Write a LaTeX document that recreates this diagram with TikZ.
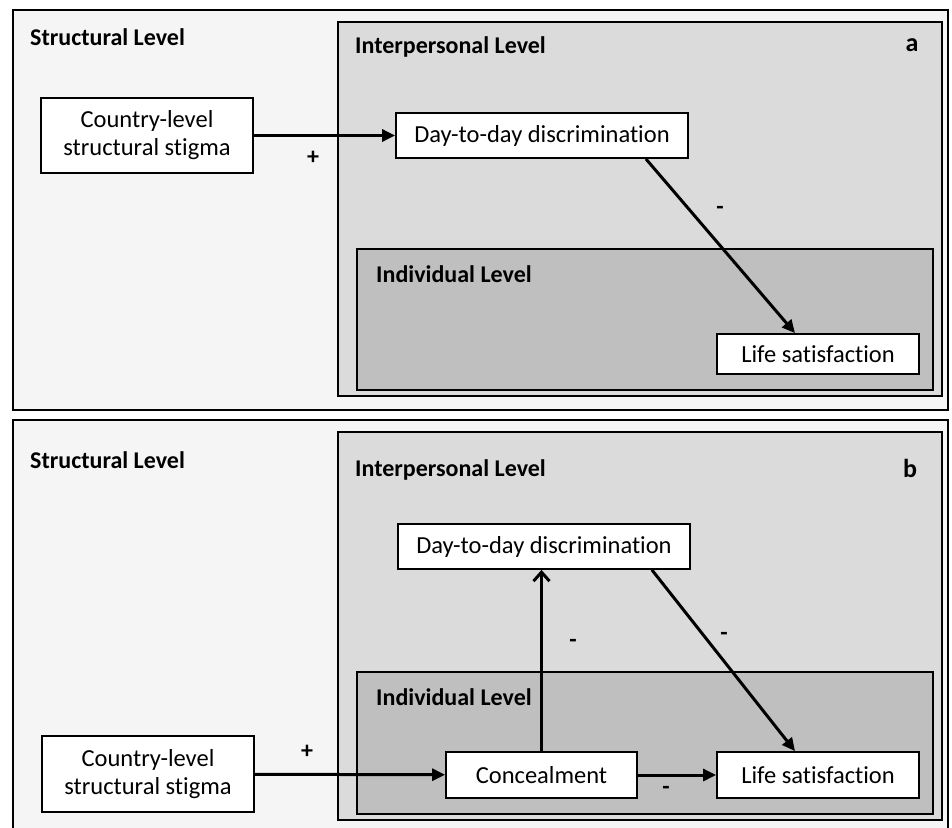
\documentclass[tikz,border=0pt]{standalone}
\usepackage{fontspec}
\setmainfont{Carlito}[Ligatures=NoCommon]
\usetikzlibrary{arrows.meta}

\begin{document}
\begin{tikzpicture}[x=1pt,y=-1pt,
  level/.style={draw=black, line width=2pt},
  varbox/.style={draw=black, fill=white, line width=1.8pt, align=center,
    inner sep=0pt, font=\fontsize{24.5}{28}\selectfont},
  levtitle/.style={anchor=west, inner sep=0pt, font=\bfseries\fontsize{24}{28}\selectfont},
  sign/.style={inner sep=0pt, font=\bfseries\fontsize{24}{28}\selectfont},
  effect/.style={line width=3pt, -{Triangle[length=13pt,width=12pt]}},
  ]
\useasboundingbox (0,0) rectangle (952,827);

% panel a
\draw[level, fill=black!4] (13,10) rectangle (948,410);
\draw[level, fill=black!14] (338,22) rectangle (942,396);
\draw[level, fill=black!25] (357,249) rectangle (933,390);
\node[levtitle] (structA) at (30,37) {Structural Level};
\node[levtitle] (interA) at (355,47) {Interpersonal Level};
\node[levtitle] (indivA) at (376,274) {Individual Level};
\node[sign] (tagA) at (912,45) {\fontsize{26}{30}\selectfont a};

\node[varbox, minimum width=212pt, minimum height=75pt] (stigmaA) at (147,135.5) {Country-level\\structural stigma};
\node[varbox, minimum width=292pt, minimum height=45pt] (discrA) at (542,135.5) {Day-to-day discrimination};
\node[varbox, minimum width=202pt, minimum height=40pt] (lifeA) at (818,354) {Life satisfaction};

\draw[effect] (stigmaA) -- (discrA);
\draw[effect] ([xshift=-43pt]discrA.south east) -- ([xshift=-23pt]lifeA.north);
\node[sign] (plusA) at (313,158) {+};
\node[sign] (minusA) at (720,210) {-};

% panel b
\draw[level, fill=black!4] (13,420) rectangle (948,832);
\draw[level, fill=black!14] (338,432) rectangle (942,820);
\draw[level, fill=black!25] (357,672) rectangle (933,814);
\node[levtitle] (structB) at (30,460) {Structural Level};
\node[levtitle] (interB) at (355,470) {Interpersonal Level};
\node[levtitle] (indivB) at (376,697) {Individual Level};
\node[sign] (tagB) at (910,468) {\fontsize{26}{30}\selectfont b};

\node[varbox, minimum width=212pt, minimum height=76pt] (stigmaB) at (148,774) {Country-level\\structural stigma};
\node[varbox, minimum width=292pt, minimum height=45pt] (discrB) at (544,546.5) {Day-to-day discrimination};
\node[varbox, minimum width=191pt, minimum height=46pt] (concB) at (541.5,775) {Concealment};
\node[varbox, minimum width=202pt, minimum height=46pt] (lifeB) at (818,775) {Life satisfaction};

\draw[effect] (stigmaB) -- (concB);
\draw[line width=3pt, -{Straight Barb[length=9pt,width=16pt]}] (concB.north) -- (concB.north |- discrB.south);
\draw[effect] ([xshift=-39pt]discrB.south east) -- ([xshift=-23pt]lifeB.north);
\draw[effect] (concB) -- (lifeB);
\node[sign] (plusB) at (307,752) {+};
\node[sign] (minusB1) at (573,643) {-};
\node[sign] (minusB2) at (724,636) {-};
\node[sign] (minusB3) at (666,790) {-};
\end{tikzpicture}
\end{document}
